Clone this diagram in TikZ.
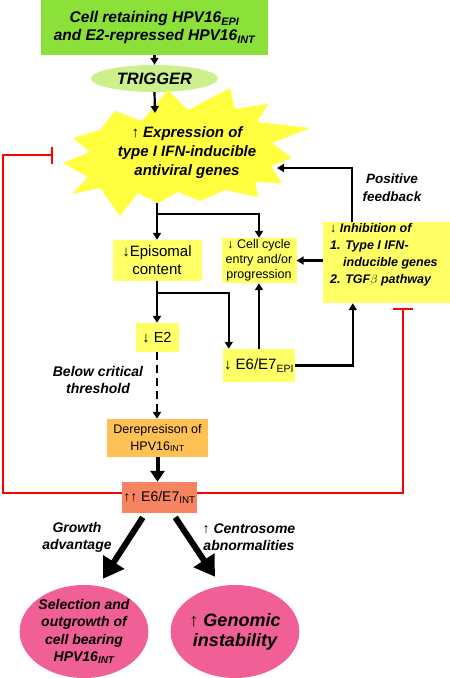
\documentclass[tikz,border=0pt]{standalone}
\usepackage{fontspec}
\setmainfont{Liberation Sans}
\usetikzlibrary{arrows.meta,shapes.geometric}
\definecolor{topgreen}{RGB}{140,224,58}
\definecolor{triggreen}{RGB}{204,240,140}
\definecolor{staryellow}{RGB}{255,255,64}
\definecolor{boxyellow}{RGB}{255,255,102}
\definecolor{derorange}{RGB}{255,192,84}
\definecolor{intsalmon}{RGB}{246,132,96}
\definecolor{outpink}{RGB}{240,96,150}
\newcommand{\bfit}{\bfseries\itshape}
\newcommand{\fs}[2]{\fontsize{#1}{#2}\selectfont}

\begin{document}
\begin{tikzpicture}[x=1pt,y=-1pt,
    box/.style={fill=boxyellow,inner sep=0pt,align=center},
    arr/.style={-{Triangle[length=7pt,width=8pt]},line width=2.2pt},
    fatarr/.style={-{Triangle[length=20pt,width=24pt]},line width=6pt},
    inhib/.style={red,line width=2pt},
    lab/.style={align=center,font=\fs{14}{17}\bfit}]
      \useasboundingbox (0,0) rectangle (450,678);
      % top of the cascade
      \node[fill=topgreen,minimum width=227pt,minimum height=55pt,inner sep=0pt,align=center,font=\fs{15.5}{18}\bfit] (top) at (154.5,27.5) {Cell retaining HPV16\textsubscript{EPI}\\and E2-repressed HPV16\textsubscript{INT}};
      \node[ellipse,fill=triggreen,minimum width=127pt,minimum height=27pt,inner sep=0pt,font=\fs{16.5}{18}\bfit] (trig) at (154.5,78.5) {TRIGGER};
      \fill[staryellow] (115,111) -- (142,121) -- (168,90) -- (188,110) -- (230,88) -- (235,109) -- (268,104) -- (257,122) -- (310,128) -- (272,143) -- (292,158) -- (271,166) -- (282,183) -- (255,182) -- (258,197) -- (225,190) -- (200,201) -- (178,192) -- (158,203) -- (138,193) -- (120,216) -- (100,188) -- (72,194) -- (88,177) -- (63,163) -- (90,152) -- (73,138) -- (100,130) -- cycle;
      \node[align=center,font=\fs{15}{19}\bfit] (xp) at (187,153) {{\mdseries\upshape ↑} Expression of\\type I IFN-inducible\\antiviral genes};
      \coordinate (xpN) at (155,113);
      \coordinate (xpS) at (157,203);
      \coordinate (xpE) at (277,168);
      \coordinate (xpW) at (53,155);
      % boxes
      \node[box,minimum width=89pt,minimum height=41pt,font=\fs{15}{18}] (epi) at (157,260.5) {↓Episomal\\content};
      \node[box,minimum width=75pt,minimum height=45pt,font=\fs{12.5}{15}] (cyc) at (259,260.5) {↓ Cell cycle\\entry and/or\\progression};
      \node[box,minimum width=127pt,minimum height=81pt] (inh) at (386.5,262.5) {};
      \node[anchor=north west,align=left,inner sep=0pt,font=\fs{12.5}{17}\bfit] (inhtxt) at (330,223) {{\mdseries\upshape ↓} Inhibition of\\1. Type I IFN-\\\hspace*{13pt}inducible genes\\2. TGF$\beta$ pathway};
      \node[box,minimum width=43pt,minimum height=29pt,font=\fs{14.5}{17}] (e2) at (157,337.5) {↓ E2};
      \node[box,minimum width=72pt,minimum height=33pt,font=\fs{15}{18}] (epiE) at (259,365.5) {↓ E6/E7\textsubscript{EPI}};
      \node[box,fill=derorange,minimum width=101pt,minimum height=38pt,font=\fs{12.5}{17}] (derep) at (157.5,438) {Derepresison of\\HPV16\textsubscript{INT}};
      \node[box,fill=intsalmon,minimum width=75pt,minimum height=31pt,font=\fs{14}{16}] (eint) at (159.5,497.5) {↑↑ E6/E7\textsubscript{INT}};
      \node[ellipse,fill=outpink,minimum width=124pt,minimum height=93pt,inner sep=0pt,align=center,font=\fs{14}{17.3}\bfit] (sel) at (84,631.5) {Selection and\\outgrowth of\\cell bearing\\HPV16\textsubscript{INT}};
      \node[ellipse,fill=outpink,minimum width=124pt,minimum height=93pt,inner sep=0pt,align=center,font=\fs{18}{20}\bfit] (gen) at (235,631.5) {{\mdseries\upshape ↑} Genomic\\instability};
      % labels
      \node[lab,font=\fs{13.5}{18}\bfit] (posfb) at (392,188) {Positive\\feedback};
      \node[lab] (below) at (98,380) {Below critical\\threshold};
      \node[lab] (growth) at (77,537) {Growth\\advantage};
      \node[lab] (centro) at (249,537) {{\mdseries\upshape ↑} Centrosome\\abnormalities};
      % connectors
      \draw[arr,dashed,dash pattern=on 6pt off 3pt] (top.south -| trig) -- (trig.north);
      \draw[arr] (trig.south) -- (xpN);
      \draw[arr] (xpS) -- (epi.north);
      \coordinate (fork1) at (157,214);
      \draw[arr] (fork1) -| (cyc.north);
      \draw[arr] (epi.south) -- (e2.north);
      \coordinate (fork2) at (157,293);
      \draw[arr] (fork2) -| ([xshift=6pt]epiE.north west);
      \draw[arr] (epiE.north) -- (cyc.south);
      \draw[arr] (epiE.east) -| ([xshift=30pt]inh.south west);
      \draw[arr] (inh.west |- cyc.east) -- (cyc.east);
      \draw[arr] ([xshift=29pt]inh.north west) |- (xpE);
      \draw[arr,dash pattern=on 8pt off 5pt] (e2.south) -- (derep.north -| e2.south);
      \draw[-{Triangle[length=11pt,width=14pt]},line width=4pt] (derep.south) -- (derep.south |- eint.north);
      \draw[fatarr,shorten <=5pt] ([xshift=-14pt]eint.south) -- ([xshift=19pt,yshift=6pt]sel.north);
      \draw[fatarr,shorten <=5pt] ([xshift=13pt]eint.south) -- ([xshift=-20pt,yshift=8pt]gen.north);
      % red inhibition lines
      \coordinate (redL) at (3,493);
      \draw[inhib,-{Bar[width=17pt]}] (eint.west |- redL) -- (redL) |- (xpW);
      \draw[inhib,-{Bar[width=20pt]},shorten >=5pt] (eint.east |- redL) -| ([xshift=80pt]inh.south west);
\end{tikzpicture}
\end{document}
